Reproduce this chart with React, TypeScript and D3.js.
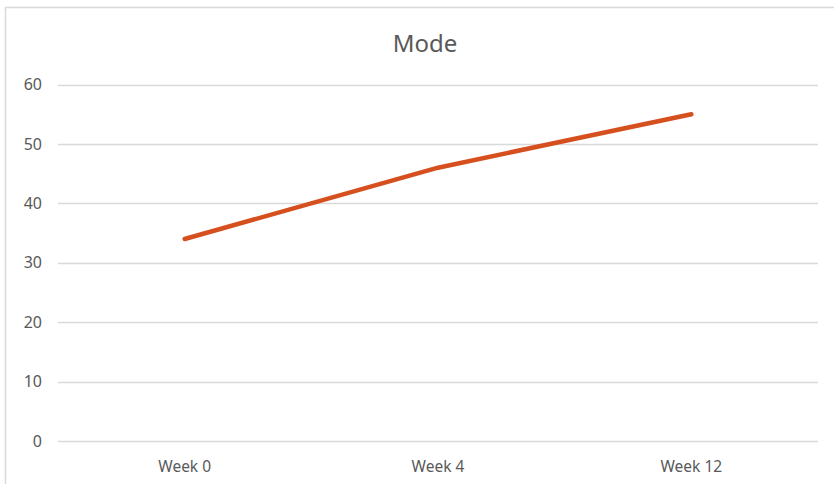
import { useEffect, useRef } from "react"
import * as d3 from "d3"

const categories = ["Week 0", "Week 4", "Week 12"]
const modeValues = [34, 46, 55]
const yTicks = [0, 10, 20, 30, 40, 50, 60]

const W = 834
const H = 484

export default function App() {
  const svgRef = useRef<SVGSVGElement>(null)

  useEffect(() => {
    if (!svgRef.current) return
    const svg = d3.select(svgRef.current)
    svg.selectAll("*").remove()

    const margin = { top: 84.5, right: 16, bottom: 43, left: 58 }
    const plotRight = W - margin.right
    const plotBottom = H - margin.bottom

    // chart area border (runs past the crop on right and bottom)
    svg
      .append("rect")
      .attr("x", 5.5)
      .attr("y", 7.5)
      .attr("width", W + 20)
      .attr("height", H + 20)
      .attr("fill", "#fff")
      .attr("stroke", "#d9d9d9")
      .attr("stroke-width", 1.5)

    const x = d3.scaleBand().domain(categories).range([margin.left, plotRight]).padding(0)
    const y = d3.scaleLinear().domain([0, 60]).range([plotBottom, margin.top])

    const font = "'Noto Sans', 'Open Sans', sans-serif"

    // gridlines
    svg
      .append("g")
      .selectAll("line")
      .data(yTicks)
      .enter()
      .append("line")
      .attr("x1", margin.left)
      .attr("x2", plotRight)
      .attr("y1", (d) => Math.round(y(d)) + 0.5)
      .attr("y2", (d) => Math.round(y(d)) + 0.5)
      .attr("stroke", "#d9d9d9")
      .attr("stroke-width", 1.5)

    // y labels
    svg
      .append("g")
      .selectAll("text")
      .data(yTicks)
      .enter()
      .append("text")
      .attr("x", 42)
      .attr("y", (d) => y(d))
      .attr("dy", "0.35em")
      .attr("text-anchor", "end")
      .attr("fill", "#595959")
      .attr("font-family", font)
      .attr("font-size", 16)
      .text((d) => d)

    // x labels
    svg
      .append("g")
      .selectAll("text")
      .data(categories)
      .enter()
      .append("text")
      .attr("x", (d) => (x(d) || 0) + x.bandwidth() / 2)
      .attr("y", plotBottom + 31)
      .attr("text-anchor", "middle")
      .attr("fill", "#595959")
      .attr("font-family", font)
      .attr("font-size", 15.5)
      .text((d) => d)

    // title
    svg
      .append("text")
      .attr("x", 425)
      .attr("y", 52)
      .attr("text-anchor", "middle")
      .attr("fill", "#595959")
      .attr("font-family", font)
      .attr("font-size", 24)
      .text("Mode")

    const line = d3
      .line<number>()
      .x((_, i) => (x(categories[i]) || 0) + x.bandwidth() / 2)
      .y((d) => y(d))

    svg
      .append("path")
      .datum(modeValues)
      .attr("d", line)
      .attr("fill", "none")
      .attr("stroke", "#d5501e")
      .attr("stroke-width", 4.5)
      .attr("stroke-linecap", "round")
      .attr("stroke-linejoin", "round")
  }, [])

  return (
    <div style={{ position: "fixed", left: 0, top: 0, width: W, height: H, background: "#fff" }}>
      <svg ref={svgRef} width={W} height={H} style={{ display: "block" }} />
    </div>
  )
}
